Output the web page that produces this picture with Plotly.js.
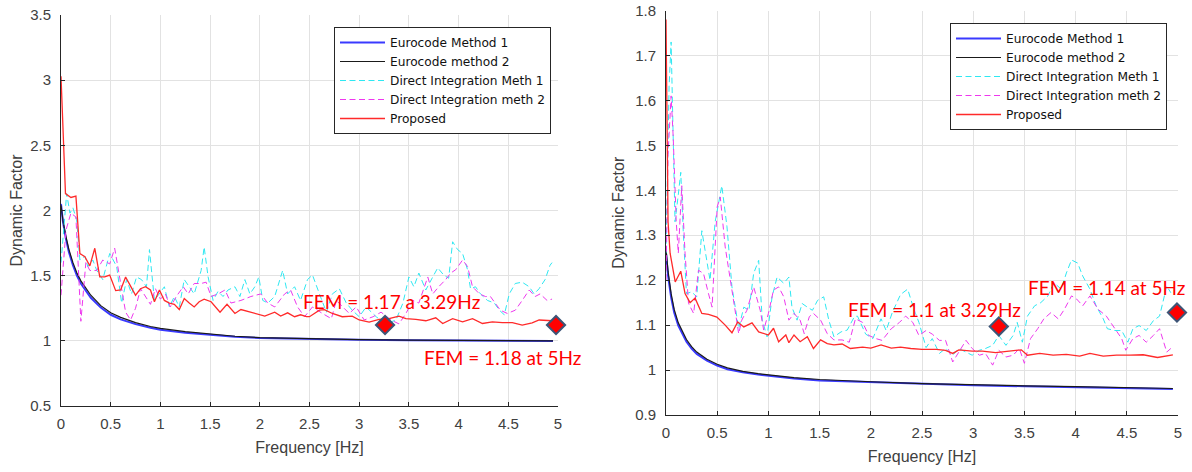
<!DOCTYPE html>
<html>
<head>
<meta charset="utf-8">
<script src="https://cdn.plot.ly/plotly-3.0.1.min.js"></script>
<style>html,body{margin:0;padding:0;background:#fff}#chart{width:1192px;height:472px}</style>
</head>
<body>
<div id="chart"></div>
<script>
// ---------- data ----------
var legendNames = ['Eurocode Method 1','Eurocode method 2','Direct Integration Meth 1','Direct Integration meth 2','Proposed'];

// Eurocode curves (shared frequency samples)
var EUf   = [0,0.02,0.05,0.08,0.12,0.16,0.2,0.25,0.3,0.4,0.5,0.6,0.75,0.9,1.0,1.25,1.5,1.75,2.0,2.5,3.0,3.5,4.0,4.5,4.95];
var L_EC1 = [2.05,1.91,1.78,1.68,1.58,1.50,1.44,1.38,1.33,1.255,1.20,1.165,1.128,1.10,1.085,1.062,1.044,1.031,1.022,1.013,1.008,1.004,1.002,1.0,0.999];
var L_EC2 = [2.04,1.92,1.80,1.70,1.60,1.52,1.46,1.40,1.35,1.27,1.215,1.18,1.14,1.11,1.095,1.07,1.05,1.035,1.025,1.015,1.01,1.006,1.003,1.001,1.0];
var R_EC1 = [1.26,1.21,1.162,1.128,1.099,1.08,1.063,1.048,1.036,1.021,1.010,1.002,0.995,0.990,0.987,0.981,0.977,0.975,0.973,0.969,0.966,0.964,0.962,0.960,0.958];
var R_EC2 = [1.27,1.22,1.17,1.135,1.105,1.085,1.068,1.052,1.04,1.024,1.013,1.005,0.997,0.992,0.989,0.983,0.979,0.976,0.974,0.970,0.967,0.965,0.963,0.961,0.959];

// Left panel: Proposed
var LRf = [0,0.045,0.1,0.15,0.19,0.24,0.29,0.34,0.39,0.44,0.49,0.55,0.6,0.65,0.7,0.75,0.8,0.85,0.9,0.94,0.99,1.04,1.09,1.14,1.19,1.24,1.29,1.34,1.39,1.44,1.51,1.56,1.6,1.67,1.75,1.81,1.9,1.98,2.05,2.15,2.21,2.28,2.35,2.41,2.47,2.5,2.6,2.65,2.73,2.83,2.93,3.0,3.1,3.2,3.3,3.4,3.47,3.57,3.67,3.77,3.84,3.94,4.04,4.14,4.24,4.34,4.44,4.54,4.64,4.74,4.81,4.94];
var LRv = [3.03,2.13,2.10,2.11,1.67,1.645,1.575,1.71,1.49,1.49,1.505,1.385,1.39,1.49,1.42,1.35,1.40,1.415,1.39,1.30,1.39,1.31,1.29,1.28,1.24,1.325,1.29,1.26,1.30,1.32,1.30,1.26,1.22,1.28,1.21,1.24,1.22,1.205,1.19,1.22,1.19,1.215,1.185,1.20,1.185,1.185,1.235,1.24,1.21,1.185,1.19,1.16,1.144,1.164,1.17,1.19,1.17,1.164,1.154,1.177,1.133,1.17,1.146,1.17,1.133,1.146,1.14,1.14,1.12,1.138,1.16,1.154];
// Left panel: Direct Integration Meth 1
var LCf = [0,0.057,0.09,0.12,0.157,0.19,0.24,0.27,0.32,0.36,0.42,0.49,0.56,0.61,0.66,0.71,0.76,0.81,0.86,0.89,0.94,0.99,1.04,1.09,1.14,1.19,1.24,1.29,1.34,1.41,1.44,1.48,1.53,1.58,1.63,1.68,1.75,1.80,1.85,1.90,1.95,1.99,2.03,2.08,2.15,2.23,2.28,2.35,2.41,2.48,2.53,2.6,2.67,2.73,2.80,2.87,2.93,3.0,3.07,3.17,3.27,3.37,3.44,3.50,3.55,3.60,3.67,3.74,3.79,3.85,3.90,3.94,3.99,4.04,4.09,4.12,4.17,4.22,4.29,4.36,4.41,4.46,4.51,4.57,4.64,4.71,4.76,4.81,4.87,4.92,4.94];
var LCv = [1.60,2.13,1.98,2.02,1.93,1.62,1.65,1.57,1.62,1.54,1.47,1.67,1.57,1.29,1.47,1.36,1.49,1.47,1.415,1.70,1.31,1.36,1.415,1.26,1.34,1.26,1.47,1.415,1.36,1.54,1.72,1.49,1.31,1.38,1.34,1.39,1.415,1.34,1.47,1.36,1.415,1.49,1.31,1.29,1.34,1.54,1.36,1.415,1.31,1.47,1.505,1.36,1.22,1.36,1.40,1.29,1.235,1.185,1.26,1.185,1.13,1.16,1.29,1.49,1.415,1.52,1.39,1.49,1.56,1.505,1.48,1.76,1.70,1.67,1.545,1.40,1.415,1.36,1.31,1.29,1.235,1.20,1.36,1.44,1.45,1.415,1.36,1.40,1.47,1.58,1.60];
// Left panel: Direct Integration meth 2
var LMf = [0,0.05,0.1,0.15,0.2,0.25,0.29,0.36,0.42,0.49,0.54,0.6,0.65,0.7,0.75,0.8,0.85,0.9,0.95,1.0,1.05,1.10,1.16,1.23,1.28,1.34,1.41,1.46,1.51,1.58,1.65,1.71,1.81,1.91,2.01,2.08,2.15,2.25,2.31,2.38,2.45,2.53,2.63,2.72,2.77,2.83,2.90,2.97,3.05,3.14,3.22,3.32,3.40,3.47,3.54,3.60,3.69,3.74,3.80,3.87,3.92,3.97,4.04,4.09,4.14,4.21,4.27,4.32,4.37,4.42,4.49,4.57,4.64,4.71,4.77,4.82,4.89,4.94];
var LMv = [1.35,1.85,1.98,1.95,1.15,1.60,1.54,1.54,1.62,1.59,1.71,1.45,1.22,1.16,1.25,1.40,1.34,1.28,1.40,1.32,1.36,1.26,1.34,1.415,1.36,1.44,1.44,1.45,1.34,1.36,1.39,1.29,1.31,1.34,1.36,1.29,1.26,1.36,1.39,1.26,1.185,1.26,1.21,1.17,1.31,1.26,1.21,1.26,1.16,1.185,1.22,1.16,1.13,1.21,1.31,1.29,1.49,1.36,1.415,1.47,1.52,1.545,1.62,1.57,1.415,1.36,1.34,1.34,1.29,1.235,1.21,1.235,1.31,1.39,1.34,1.36,1.31,1.32];

// Right panel: Proposed
var RRf = [0,0.01,0.02,0.04,0.09,0.144,0.186,0.235,0.284,0.35,0.415,0.497,0.578,0.644,0.70,0.76,0.84,0.905,1.0,1.05,1.10,1.17,1.20,1.25,1.31,1.38,1.44,1.51,1.575,1.64,1.72,1.80,1.92,2.0,2.10,2.2,2.29,2.39,2.50,2.64,2.73,2.80,2.86,2.99,3.09,3.22,3.32,3.42,3.47,3.53,3.65,3.78,3.91,4.04,4.14,4.27,4.40,4.53,4.66,4.80,4.89,4.95];
var RRv = [1.78,1.55,1.33,1.26,1.196,1.22,1.17,1.15,1.16,1.126,1.124,1.118,1.10,1.083,1.107,1.096,1.105,1.085,1.078,1.093,1.063,1.078,1.061,1.078,1.063,1.074,1.048,1.067,1.059,1.056,1.058,1.048,1.051,1.049,1.056,1.049,1.051,1.048,1.046,1.046,1.044,1.037,1.045,1.042,1.042,1.039,1.042,1.044,1.045,1.033,1.037,1.033,1.035,1.031,1.037,1.031,1.033,1.033,1.034,1.028,1.031,1.034];
// Right panel: Direct Integration Meth 1
var RCf = [0,0.03,0.05,0.065,0.088,0.12,0.144,0.17,0.2,0.25,0.30,0.35,0.40,0.43,0.48,0.545,0.595,0.644,0.71,0.76,0.81,0.856,0.905,0.94,0.987,1.036,1.085,1.15,1.20,1.23,1.28,1.33,1.38,1.43,1.48,1.54,1.59,1.64,1.71,1.77,1.84,1.87,1.95,2.02,2.10,2.15,2.21,2.29,2.36,2.42,2.47,2.54,2.60,2.67,2.73,2.80,2.86,2.93,2.99,3.06,3.12,3.19,3.25,3.32,3.39,3.43,3.48,3.53,3.60,3.66,3.73,3.79,3.86,3.91,3.96,4.02,4.07,4.14,4.20,4.27,4.31,4.38,4.45,4.51,4.56,4.62,4.69,4.76,4.82,4.89,4.93];
var RCv = [1.26,1.63,1.73,1.555,1.33,1.39,1.44,1.30,1.17,1.174,1.163,1.31,1.244,1.20,1.33,1.41,1.32,1.185,1.093,1.14,1.133,1.215,1.244,1.111,1.074,1.163,1.207,1.193,1.207,1.14,1.111,1.148,1.14,1.133,1.155,1.163,1.111,1.074,1.085,1.089,1.119,1.12,1.08,1.07,1.114,1.088,1.128,1.168,1.18,1.136,1.106,1.05,1.07,1.037,1.048,1.033,1.048,1.04,1.033,1.044,1.048,1.055,1.077,1.055,1.077,1.106,1.062,1.12,1.143,1.15,1.165,1.194,1.18,1.216,1.245,1.238,1.209,1.18,1.143,1.114,1.092,1.088,1.088,1.062,1.092,1.099,1.088,1.11,1.12,1.187,1.172];
// Right panel: Direct Integration meth 2
var RMf = [0,0.02,0.05,0.07,0.1,0.12,0.154,0.186,0.22,0.27,0.317,0.366,0.415,0.45,0.50,0.53,0.578,0.627,0.676,0.71,0.74,0.79,0.856,0.92,0.954,1.0,1.05,1.10,1.15,1.20,1.25,1.31,1.35,1.40,1.44,1.51,1.575,1.64,1.72,1.79,1.85,1.92,1.98,2.05,2.11,2.20,2.28,2.34,2.41,2.47,2.54,2.60,2.67,2.73,2.80,2.86,2.93,2.99,3.06,3.12,3.19,3.25,3.32,3.39,3.45,3.50,3.56,3.63,3.69,3.76,3.83,3.89,3.96,4.01,4.07,4.14,4.22,4.30,4.38,4.45,4.49,4.56,4.62,4.69,4.76,4.82,4.89,4.93];
var RMv = [1.20,1.48,1.61,1.52,1.33,1.26,1.41,1.26,1.148,1.126,1.222,1.215,1.17,1.14,1.363,1.385,1.274,1.20,1.126,1.081,1.111,1.133,1.185,1.133,1.089,1.126,1.178,1.185,1.163,1.111,1.126,1.111,1.081,1.119,1.126,1.111,1.081,1.067,1.067,1.062,1.114,1.106,1.077,1.07,1.066,1.092,1.106,1.12,1.106,1.077,1.088,1.08,1.066,1.066,1.018,1.04,1.066,1.048,1.033,1.037,1.011,1.044,1.029,1.033,1.048,1.015,1.07,1.092,1.114,1.128,1.114,1.135,1.165,1.158,1.143,1.165,1.135,1.12,1.092,1.07,1.044,1.07,1.077,1.062,1.077,1.092,1.04,1.048];

// FEM points and labels
var L_femF = [3.26, 4.98], L_femV = [1.121, 1.121];
var R_femF = [3.25, 4.99], R_femV = [1.097, 1.128];
var L_labels = ['FEM = 1.17 a 3.29Hz', 'FEM = 1.18 at 5Hz'];
var R_labels = ['FEM = 1.1 at 3.29Hz', 'FEM = 1.14 at 5Hz'];
var L_labF = [3.32, 4.44], L_labV = [1.30, 0.875];
var R_labF = [2.62, 4.30], R_labV = [1.135, 1.183];

var xTicks = [0,0.5,1,1.5,2,2.5,3,3.5,4,4.5,5];

// ---------- styles ----------
var cBlue = '#3a3aff', cBlack = '#1a1a1a', cCyan = '#2ee8f2', cMag = '#ee38ee', cRed = '#ff2a2a';
var dashed = '6px,3.5px';

function panel(xa, ya, lg, ec1, ec2, cf, cv, mf, mv, rf, rv, ff, fv) {
  return [
    {x: EUf, y: ec1, xaxis: xa, yaxis: ya, legend: lg, name: legendNames[0], mode: 'lines', line: {color: cBlue, width: 2}},
    {x: EUf, y: ec2, xaxis: xa, yaxis: ya, legend: lg, name: legendNames[1], mode: 'lines', line: {color: cBlack, width: 1.2}},
    {x: cf, y: cv, xaxis: xa, yaxis: ya, legend: lg, name: legendNames[2], mode: 'lines', line: {color: cCyan, width: 1, dash: dashed}},
    {x: mf, y: mv, xaxis: xa, yaxis: ya, legend: lg, name: legendNames[3], mode: 'lines', line: {color: cMag, width: 1, dash: dashed}},
    {x: rf, y: rv, xaxis: xa, yaxis: ya, legend: lg, name: legendNames[4], mode: 'lines', line: {color: cRed, width: 1.3}},
    {x: ff, y: fv, xaxis: xa, yaxis: ya, showlegend: false, mode: 'markers', cliponaxis: false,
     marker: {symbol: 'diamond', size: 14, color: '#ff0000', line: {color: '#3d5577', width: 2}}}
  ];
}

var data = [].concat(
  panel('x', 'y', 'legend', L_EC1, L_EC2, LCf, LCv, LMf, LMv, LRf, LRv, L_femF, L_femV),
  panel('x2', 'y2', 'legend2', R_EC1, R_EC2, RCf, RCv, RMf, RMv, RRf, RRv, R_femF, R_femV)
);

var tickFont = {family: 'Liberation Sans, Arial, sans-serif', size: 15, color: '#404040'};
var titleFont = {family: 'Liberation Sans, Arial, sans-serif', size: 16, color: '#404040'};

function xAxis(domain, anchor) {
  return {domain: domain, anchor: anchor, range: [0, 5], tickvals: xTicks, ticktext: xTicks.map(String),
    showgrid: true, gridcolor: '#e2e2e2', gridwidth: 1, zeroline: false,
    showline: true, linecolor: '#262626', linewidth: 1, mirror: false,
    ticks: 'inside', ticklen: 4, tickcolor: '#262626', tickfont: tickFont, ticklabelstandoff: 4,
    title: {text: 'Frequency [Hz]', font: titleFont, standoff: 10}};
}
function yAxis(domain, anchor, range, dtick, standoff) {
  return {domain: domain, anchor: anchor, range: range, dtick: dtick, tick0: range[0],
    showgrid: true, gridcolor: '#e2e2e2', gridwidth: 1, zeroline: false,
    showline: true, linecolor: '#262626', linewidth: 1, mirror: false,
    ticks: 'inside', ticklen: 4, tickcolor: '#262626', tickfont: tickFont, ticklabelstandoff: 6,
    title: {text: 'Dynamic Factor', font: titleFont, standoff: standoff}};
}

function labels(fs, vs, texts, xr, yr) {
  return texts.map(function (t, i) {
    return {x: fs[i], y: vs[i], xref: xr, yref: yr, text: t, showarrow: false,
      xanchor: 'center', yanchor: 'middle',
      font: {family: 'Lato, Liberation Sans, sans-serif', size: 19, color: '#ff0000'}};
  });
}

var legendBase = {xref: 'paper', yref: 'paper', xanchor: 'left', yanchor: 'top',
  bgcolor: '#ffffff', bordercolor: '#262626', borderwidth: 1,
  font: {family: 'DejaVu Sans, Liberation Sans, sans-serif', size: 12.2, color: '#111'},
  itemwidth: 45, tracegroupgap: 0};

var layout = {
  width: 1192, height: 472,
  margin: {l: 0, r: 0, t: 0, b: 0},
  paper_bgcolor: '#ffffff', plot_bgcolor: '#ffffff',
  xaxis: xAxis([61/1192, 558/1192], 'y'),
  yaxis: yAxis([1 - 406/472, 1 - 15/472], 'x', [0.5, 3.5], 0.5, 3),
  xaxis2: xAxis([666/1192, 1178/1192], 'y2'),
  yaxis2: yAxis([1 - 415/472, 1 - 10.5/472], 'x2', [0.9, 1.8], 0.1, 6),
  legend: Object.assign({}, legendBase, {x: 334/1192, y: 1 - 27/472}),
  legend2: Object.assign({}, legendBase, {x: 950/1192, y: 1 - 23/472}),
  annotations: [].concat(labels(L_labF, L_labV, L_labels, 'x', 'y'), labels(R_labF, R_labV, R_labels, 'x2', 'y2')),
  showlegend: true
};

Plotly.newPlot('chart', data, layout, {displayModeBar: false, staticPlot: true});
</script>
</body>
</html>
